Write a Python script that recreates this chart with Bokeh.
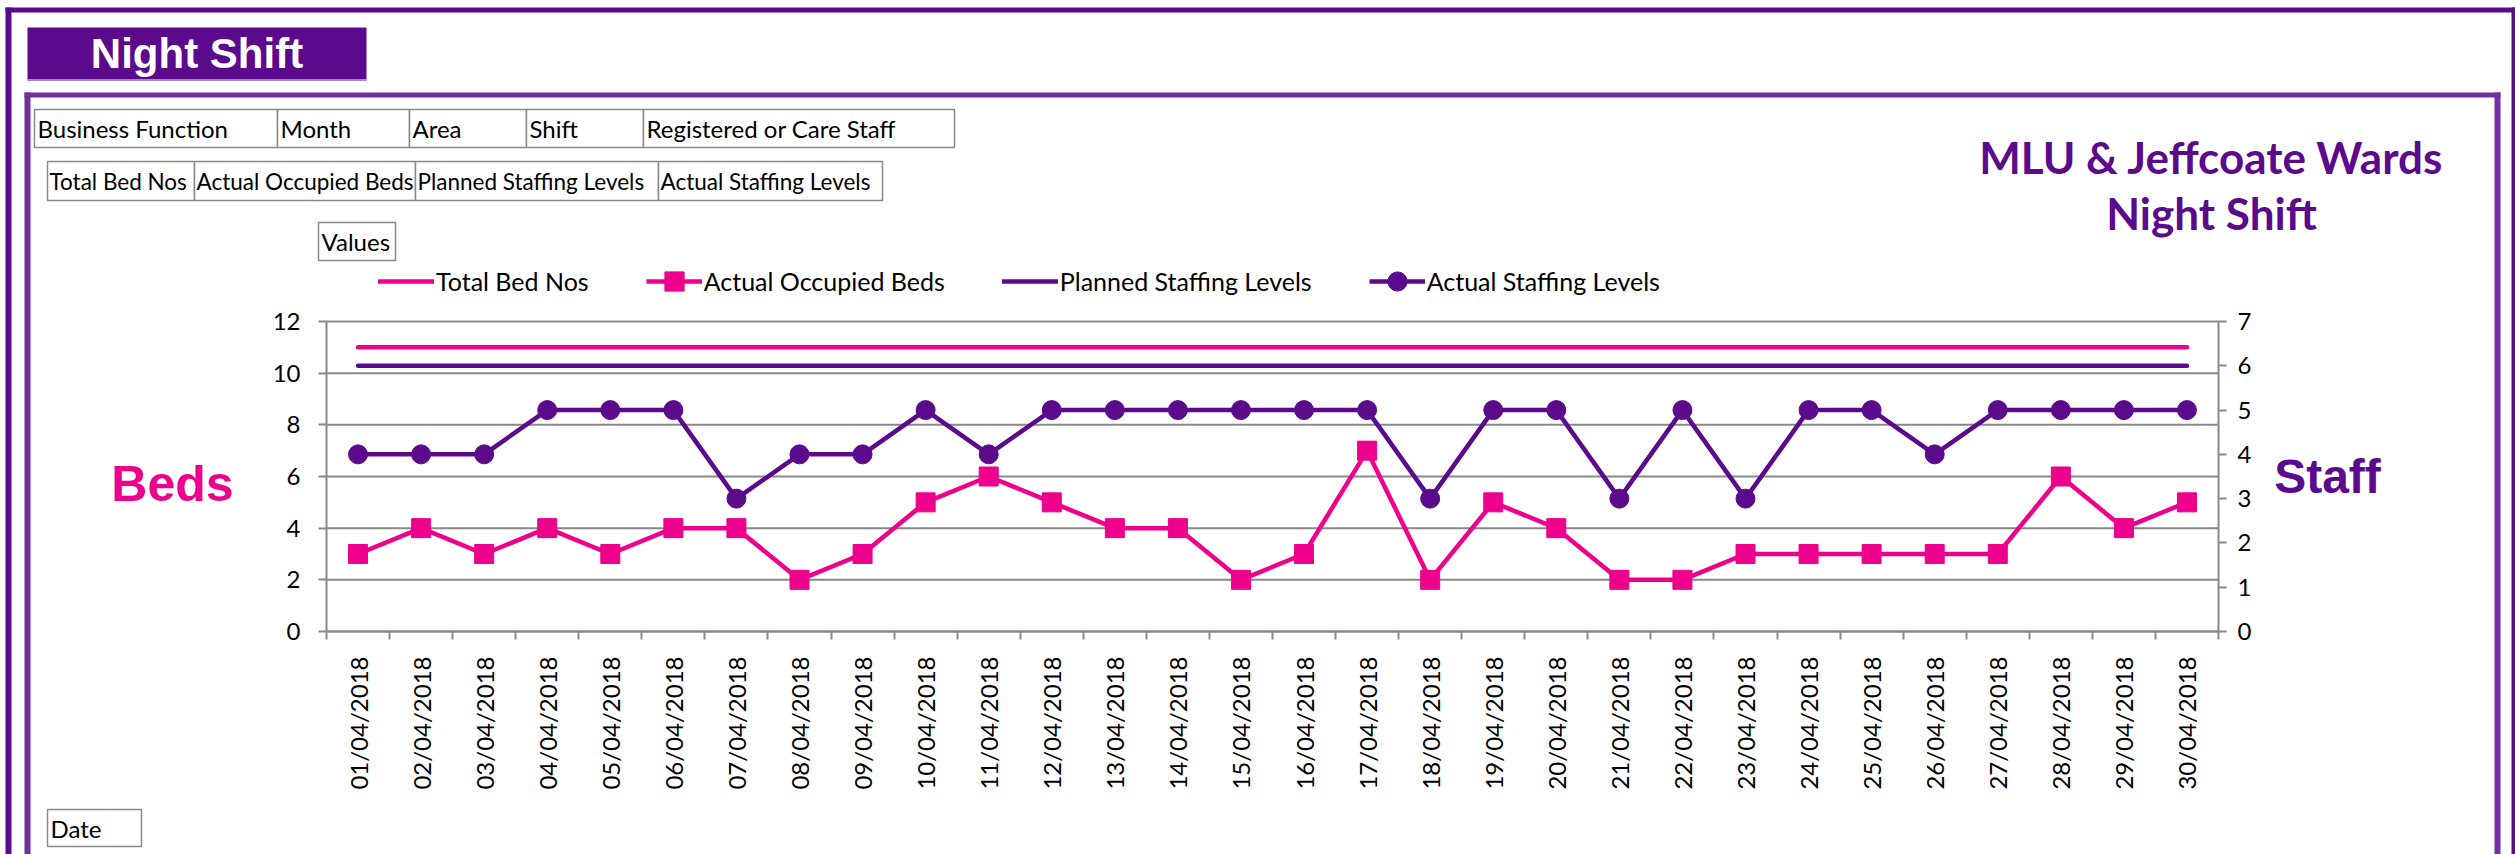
import math
from bokeh.plotting import figure
from bokeh.models import (Range1d, LinearAxis, FixedTicker, BoxAnnotation, Label,
                          Legend, LegendItem, ColumnDataSource)
from bokeh.embed import file_html
from bokeh.resources import INLINE

# ---------------- data ----------------
dates = ["01/04/2018", "02/04/2018", "03/04/2018", "04/04/2018", "05/04/2018",
         "06/04/2018", "07/04/2018", "08/04/2018", "09/04/2018", "10/04/2018",
         "11/04/2018", "12/04/2018", "13/04/2018", "14/04/2018", "15/04/2018",
         "16/04/2018", "17/04/2018", "18/04/2018", "19/04/2018", "20/04/2018",
         "21/04/2018", "22/04/2018", "23/04/2018", "24/04/2018", "25/04/2018",
         "26/04/2018", "27/04/2018", "28/04/2018", "29/04/2018", "30/04/2018"]
total_bed_nos = [11, 11, 11, 11, 11, 11, 11, 11, 11, 11, 11, 11, 11, 11, 11,
                 11, 11, 11, 11, 11, 11, 11, 11, 11, 11, 11, 11, 11, 11, 11]
actual_occupied_beds = [3, 4, 3, 4, 3, 4, 4, 2, 3, 5, 6, 5, 4, 4, 2,
                        3, 7, 2, 5, 4, 2, 2, 3, 3, 3, 3, 3, 6, 4, 5]
planned_staffing_levels = [6, 6, 6, 6, 6, 6, 6, 6, 6, 6, 6, 6, 6, 6, 6,
                           6, 6, 6, 6, 6, 6, 6, 6, 6, 6, 6, 6, 6, 6, 6]
actual_staffing_levels = [4, 4, 4, 5, 5, 5, 3, 4, 4, 5, 4, 5, 5, 5, 5,
                          5, 5, 3, 5, 5, 3, 5, 3, 5, 5, 4, 5, 5, 5, 5]
series_names = ["Total Bed Nos", "Actual Occupied Beds",
                "Planned Staffing Levels", "Actual Staffing Levels"]
beds_ticks = [0, 2, 4, 6, 8, 10, 12]
staff_ticks = [0, 1, 2, 3, 4, 5, 6, 7]
row1_fields = ["Business Function", "Month", "Area", "Shift", "Registered or Care Staff"]
row2_fields = ["Total Bed Nos", "Actual Occupied Beds", "Planned Staffing Levels", "Actual Staffing Levels"]
header_text = "Night Shift"
title_lines = ["MLU & Jeffcoate Wards", "Night Shift"]
beds_title = "Beds"
staff_title = "Staff"

# ---------------- style / layout ----------------
PINK = "#EC008C"
PURPLE = "#5B0A8C"
PURPLE2 = "#7030A0"
GRAY = "#898989"
FONT = "Lato"

W, H = 2515, 854
FL, FR, FT, FB = 326, 2218, 321, 631   # chart plot area in canvas pixels
n = len(dates)
BED_MAX, STAFF_MAX = beds_ticks[-1], staff_ticks[-1]


def span(c0, c1, lo_px, hi_px, full_lo, full_hi):
    # data range so that c0 maps to lo_px and c1 maps to hi_px, spanning full_lo..full_hi pixels
    k = (c1 - c0) / (hi_px - lo_px)
    return Range1d(c0 + (full_lo - lo_px) * k, c0 + (full_hi - lo_px) * k)


p = figure(width=W, height=H, x_range=Range1d(0, W), y_range=Range1d(H, 0),
           output_backend="svg", toolbar_location=None, title=None,
           x_axis_location=None, y_axis_location=None,
           min_border_left=0, min_border_right=0, min_border_top=0, min_border_bottom=0,
           background_fill_color="white", border_fill_color="white",
           outline_line_color=None)
p.grid.visible = False
p.extra_x_ranges = {"cx": span(0, n, FL, FR, 0, W)}
p.extra_y_ranges = {"cy": span(0, BED_MAX, FB, FT, H, 0),
                    "cy2": span(0, STAFF_MAX, FB, FT, H, 0)}

# gridlines (from the left axis ticks)
gsrc = ColumnDataSource(dict(y=beds_ticks, x0=[0] * len(beds_ticks), x1=[n] * len(beds_ticks)))
p.segment("x0", "y", "x1", "y", source=gsrc, x_range_name="cx", y_range_name="cy",
          line_color=GRAY, line_width=2)

# axes
x = [i + 0.5 for i in range(n)]
yl = LinearAxis(x_range_name="cx", y_range_name="cy", fixed_location=0, bounds=(0, BED_MAX),
                ticker=FixedTicker(ticks=beds_ticks))
yr = LinearAxis(x_range_name="cx", y_range_name="cy2", fixed_location=n, bounds=(0, STAFF_MAX),
                ticker=FixedTicker(ticks=staff_ticks))
xb = LinearAxis(x_range_name="cx", y_range_name="cy", fixed_location=0, bounds=(0, n),
                ticker=FixedTicker(ticks=x, minor_ticks=list(range(n + 1))),
                major_label_overrides={xi: d for xi, d in zip(x, dates)})
for ax in (yl, yr, xb):
    ax.axis_line_color = GRAY
    ax.axis_line_width = 2
    ax.major_tick_line_color = GRAY
    ax.major_tick_line_width = 2
    ax.major_tick_in = 0
    ax.major_tick_out = 8
    ax.minor_tick_line_color = None
    ax.major_label_text_font = FONT
    ax.major_label_text_font_size = "24px"
    ax.major_label_text_color = "#000000"
yl.major_label_standoff = 18
yr.major_label_standoff = 11
xb.major_tick_out = 0
xb.major_tick_line_color = None
xb.minor_tick_line_color = GRAY
xb.minor_tick_line_width = 2
xb.minor_tick_in = 0
xb.minor_tick_out = 8
xb.major_label_orientation = math.pi / 2
xb.major_label_standoff = 17
p.add_layout(yl, "left")
p.add_layout(yr, "right")
p.add_layout(xb, "below")

# series
src = ColumnDataSource(dict(x=x, date=dates, total=total_bed_nos, occ=actual_occupied_beds,
                            planned=planned_staffing_levels, actual=actual_staffing_levels))
kw1 = dict(source=src, x_range_name="cx", y_range_name="cy")
kw2 = dict(source=src, x_range_name="cx", y_range_name="cy2")
r_total = p.line("x", "total", color=PINK, line_width=4.5, line_cap="round", **kw1)
r_occ_l = p.line("x", "occ", color=PINK, line_width=4.5, **kw1)
r_occ_m = p.scatter("x", "occ", marker="square", size=19, color=PINK, **kw1)
r_pl = p.line("x", "planned", color=PURPLE, line_width=4.5, line_cap="round", **kw2)
r_act_l = p.line("x", "actual", color=PURPLE, line_width=4.5, **kw2)
r_act_m = p.scatter("x", "actual", marker="circle", size=19, color=PURPLE, **kw2)

legend = Legend(items=[LegendItem(label=series_names[0], renderers=[r_total]),
                       LegendItem(label=series_names[1], renderers=[r_occ_l, r_occ_m]),
                       LegendItem(label=series_names[2], renderers=[r_pl]),
                       LegendItem(label=series_names[3], renderers=[r_act_l, r_act_m])],
                orientation="horizontal", location=(378, H - 305),
                glyph_width=56, glyph_height=48, label_standoff=2, spacing=57,
                padding=0, margin=0, border_line_color=None, background_fill_alpha=0,
                label_text_font=FONT, label_text_font_size="25px", label_text_color="#000000")
p.add_layout(legend, "center")


# ---------------- decorations (canvas pixel coordinates) ----------------
def box(l, t, r, b, fill="white", line=None, lw=0):
    p.add_layout(BoxAnnotation(left=l, right=r, top=t, bottom=b,
                               fill_color=fill, fill_alpha=1,
                               line_color=line, line_width=lw, line_alpha=1))


def label(xx, yy, text, size, color="#000000", font=FONT, style="normal", align="left"):
    p.add_layout(Label(x=xx, y=yy, text=text,
                       text_font=font, text_font_size=size, text_font_style=style,
                       text_color=color, text_align=align, text_baseline="middle"))


# outer border
box(5, 7, 11, H, PURPLE)
box(5, 7, W, 12, PURPLE)
box(W - 4, 7, W, H, PURPLE)
# inner border
box(24, 92, 30, H, PURPLE2)
box(24, 92, 2500, 97, PURPLE2)
box(2494, 92, 2500, H, PURPLE2)
# header
box(27, 27, 366, 79, PURPLE)
box(27, 78.5, 366, 80.5, "#A487C4")
label(196.5, 53, header_text, "42px", "white", "Liberation Sans", "bold", "center")

# field buttons
row1_x = [34, 277, 409, 526, 643, 954]
for i, name in enumerate(row1_fields):
    box(row1_x[i], 109, row1_x[i + 1], 147, "white", GRAY, 1.5)
    label(row1_x[i] + 3, 128, name, "24px")
row2_x = [47, 194, 415, 658, 882]
for i, name in enumerate(row2_fields):
    box(row2_x[i], 161, row2_x[i + 1], 200, "white", GRAY, 1.5)
    label(row2_x[i] + 2, 180.5, name, "22.5px")
box(318, 222, 395, 260, "white", GRAY, 1.5)
label(321, 241, "Values", "24px")
box(47, 809, 141, 846, "white", GRAY, 1.5)
label(50, 827.5, "Date", "24px")

# title
label(2211, 156, title_lines[0], "44px", PURPLE, FONT, "bold", "center")
label(2211, 212, title_lines[1], "44px", PURPLE, FONT, "bold", "center")

# axis titles
label(172, 483, beds_title, "50px", PINK, "Liberation Sans", "bold", "center")
label(2327, 476, staff_title, "48px", PURPLE, "Liberation Sans", "bold", "center")

open("out.html", "w").write(file_html(p, INLINE))
